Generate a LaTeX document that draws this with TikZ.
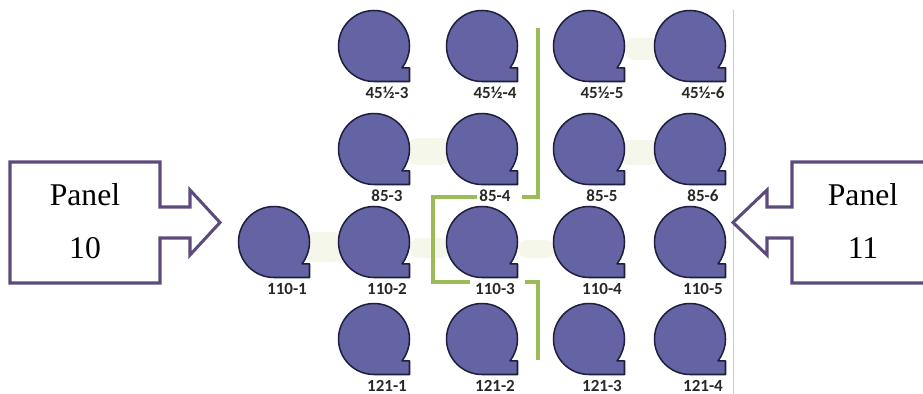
\documentclass[tikz,border=0pt]{standalone}
\usepackage{fontspec}
\setmainfont{Liberation Serif}
\newfontfamily\lblfont{Carlito}[BoldFont={* Bold}]
\definecolor{bubblefill}{RGB}{100,100,165}
\definecolor{bubbleline}{RGB}{30,30,62}
\definecolor{panelpurple}{RGB}{94,75,125}
\definecolor{wiregreen}{RGB}{155,187,89}
\definecolor{lblgray}{RGB}{40,40,40}
\definecolor{haze}{RGB}{240,245,225}
\newcommand\drawbubble[4]{%
  \draw[bubble] (#2,#3+35.5) arc[start angle=90,end angle=398,radius=35.5]
    -- (#2+35.5,#3+21.9) -- (#2+35.5,#3+35.5) -- cycle;
  \node[lbl] (#1) at (#2+13,#3+47) {#4};
}
\begin{document}
\begin{tikzpicture}[x=0.03cm,y=-0.03cm,
  bubble/.style={fill=bubblefill,draw=bubbleline,line width=1.3pt,line join=round},
  lbl/.style={font=\lblfont\bfseries\fontsize{14.5}{15}\selectfont,text=lblgray,inner sep=0pt},
  panel/.style={draw=panelpurple,line width=2.6pt,fill=white,line join=miter},
  ptxt/.style={font=\fontsize{27}{30}\selectfont,inner sep=0pt},
  wire/.style={draw=wiregreen,line width=2.7pt}]
\path[use as bounding box] (0,0) rectangle (923,394);
\clip (0,0) rectangle (923,394);
\fill[white] (0,0) rectangle (923,394);
% faint hazes
\foreach \xa/\ya/\xb/\yb in {408/138/450/165, 620/140/660/165, 305/232/345/262, 410/238/450/258, 625/38/660/60, 518/240/555/258}
  \fill[haze,opacity=0.7,rounded corners=8pt] (\xa,\ya) rectangle (\xb,\yb);
% edge line of the picture
\coordinate (eTop) at (733,10);
\coordinate (eBot) at (733,394);
\draw[gray!40,line width=0.6pt] (eTop) -- (eBot);
% bubbles
\drawbubble{a3}{374}{46}{45½-3}
\drawbubble{a4}{482}{46}{45½-4}
\drawbubble{a5}{589}{46}{45½-5}
\drawbubble{a6}{690}{46}{45½-6}
\drawbubble{b3}{374}{149}{85-3}
\drawbubble{b4}{482}{149}{85-4}
\drawbubble{b5}{589}{149}{85-5}
\drawbubble{b6}{690}{149}{85-6}
\drawbubble{c1}{274}{242}{110-1}
\drawbubble{c2}{374}{242}{110-2}
\drawbubble{c3}{482}{242}{110-3}
\drawbubble{c4}{589}{242}{110-4}
\drawbubble{c5}{690}{242}{110-5}
\drawbubble{d1}{374}{339}{121-1}
\drawbubble{d2}{482}{339}{121-2}
\drawbubble{d3}{589}{339}{121-3}
\drawbubble{d4}{690}{339}{121-4}
% green wires
\coordinate (gA) at (538,28);
\coordinate (gB) at (538,197);
\coordinate (gC) at (522,197);
\coordinate (gD) at (477,197);
\coordinate (gE) at (433,197);
\coordinate (gF) at (433,282);
\coordinate (gG) at (470,282);
\coordinate (gH) at (525,282);
\coordinate (gI) at (538,282);
\coordinate (gJ) at (538,360);
\draw[wire] (gA) -- (gB) -- (gC);
\draw[wire] (gD) -- (gE) -- (gF) -- (gG);
\draw[wire] (gH) -- (gI) -- (gJ);
% panels
\draw[panel] (10,162) -- (160,162) -- (160,207) -- (190,207) -- (190,190)
  -- (220,222.5) -- (190,255) -- (190,238) -- (160,238) -- (160,283)
  -- (10,283) -- cycle;
\node[ptxt] (p10a) at (85,195) {Panel};
\node[ptxt] (p10b) at (85,248) {10};
\draw[panel] (940,162) -- (792,162) -- (792,207) -- (767,207) -- (767,190)
  -- (733,222.5) -- (767,255) -- (767,238) -- (792,238) -- (792,283)
  -- (940,283);
\node[ptxt] (p11a) at (863,195) {Panel};
\node[ptxt] (p11b) at (863,248) {11};
\end{tikzpicture}
\end{document}
